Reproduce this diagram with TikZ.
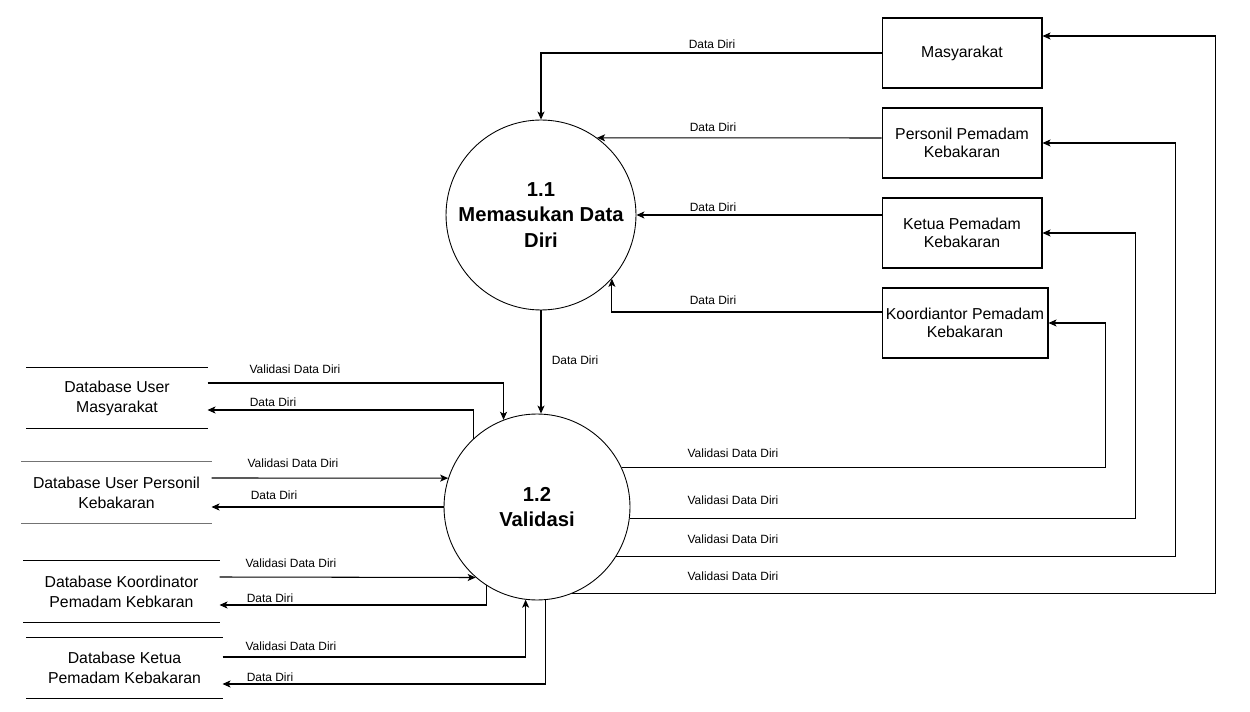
\documentclass[tikz,border=0pt]{standalone}
\usepackage{fontspec}
\setmainfont{Liberation Sans}
\usetikzlibrary{calc,arrows.meta}

\begin{document}
\begin{tikzpicture}[x={(0.02cm,0cm)}, y={(0cm,-0.02cm)}, line width=0.6pt,
    arr/.style={-{Stealth[length=1.6mm,width=1.4mm,inset=0.4mm]}},
    proc/.style={draw, circle, line width=0.5pt, inner sep=0pt, align=center,
        font=\fontsize{11.5}{14.5}\selectfont\bfseries},
    ent/.style={draw, minimum width=3.2cm, minimum height=1.4cm, inner sep=0pt,
        align=center, font=\fontsize{9}{10.4}\selectfont},
    store/.style={minimum height=1.2cm, inner sep=0pt, align=center,
        font=\fontsize{9}{11.3}\selectfont},
    lbl/.style={inner sep=0pt, font=\fontsize{6.8}{8}\selectfont}]

    \useasboundingbox (0,0) rectangle (1250,712);

    % --- Proses ---
    \node[proc, minimum size=3.8cm] (p11) at (541,215) {1.1\\Memasukan Data\\Diri};
    \node[proc, minimum size=3.72cm] (p12) at (537,507) {1.2\\Validasi};

    % --- Entitas luar ---
    \node[ent] (mas) at (962,53) {Masyarakat};
    \node[ent] (pers) at (962,143) {Personil Pemadam\\Kebakaran};
    \node[ent] (ket) at (962,233) {Ketua Pemadam\\Kebakaran};
    \node[ent, minimum width=3.32cm] (koo) at (965,323) {Koordiantor Pemadam\\Kebakaran};

    % --- Data store ---
    \node[store, minimum width=3.6cm] (dbm) at (117,398) {Database User\\Masyarakat};
    \node[store, minimum width=3.78cm, minimum height=1.22cm] (dbp) at (116.5,492.5) {Database User Personil\\Kebakaran};
    \node[store, minimum width=3.9cm, minimum height=1.22cm] (dbk) at (121.5,591.5) {Database Koordinator\\Pemadam Kebkaran};
    \node[store, minimum width=3.9cm] (dbt) at (124.5,668) {Database Ketua\\Pemadam Kebakaran};

    \foreach \s/\c in {dbm/black, dbp/black!55, dbk/black, dbt/black}
        \draw[\c] (\s.north west) -- (\s.north east) (\s.south west) -- (\s.south east);

    % --- Data Diri ke proses 1.1 ---
    \draw[arr] (mas.west) -| (p11.north);
    \draw[arr] ($(pers.west)+(0,-5)$) -- (p11.54);
    \draw[arr] (ket.west |- p11.east) -- (p11.east);
    \draw[arr] ($(koo.west)+(0,-11)$) -| (p11.-42);
    \draw[arr] (p11.south) -- (p11.south |- p12.north);

    % --- Validasi Data Diri ke entitas ---
    \draw[arr] (p12.25) -| ($(koo.east)+(57,0)$) -- (koo.east);
    \draw[arr] (p12.-7) -| ($(ket.east)+(93,0)$) -- (ket.east);
    \draw[arr] (p12.-32) -| ($(pers.east)+(133,0)$) -- (pers.east);
    \draw[arr] (p12.-68) -| ($(mas.east)+(173,-17)$) -- ($(mas.east)+(0,-17)$);

    % --- Ke/dari data store ---
    \draw[arr] ($(dbm.east)+(0,-15)$) -| (p12.111);
    \draw[arr] (p12.133) |- ($(dbm.east)+(0,12)$);
    \draw[arr] ($(dbp.east)+(0,-14.5)$) -- (p12.162);
    \draw[arr] (p12.west) -- (p12.west -| dbp.east);
    \draw[arr] ($(dbk.east)+(0,-14.5)$) -- (p12.229);
    \draw[arr] (p12.237) |- ($(dbk.east)+(0,13.5)$);
    \draw[arr] ($(dbt.east)+(0,-11)$) -| (p12.263);
    \draw[arr] (p12.275) |- ($(dbt.east)+(0,16)$);

    % --- Label alur ---
    \foreach \x/\y [count=\i] in {712/44, 713/127, 713/207, 713/300, 575/360,
                                  273/402, 274/495, 270/598, 270/677}
        \node[lbl] (dd\i) at (\x,\y) {Data Diri};
    \foreach \x/\y [count=\i] in {733/453, 733/500, 733/539, 733/576,
                                  295/369, 293/463, 291/563, 291/646}
        \node[lbl] (vd\i) at (\x,\y) {Validasi Data Diri};

\end{tikzpicture}
\end{document}
